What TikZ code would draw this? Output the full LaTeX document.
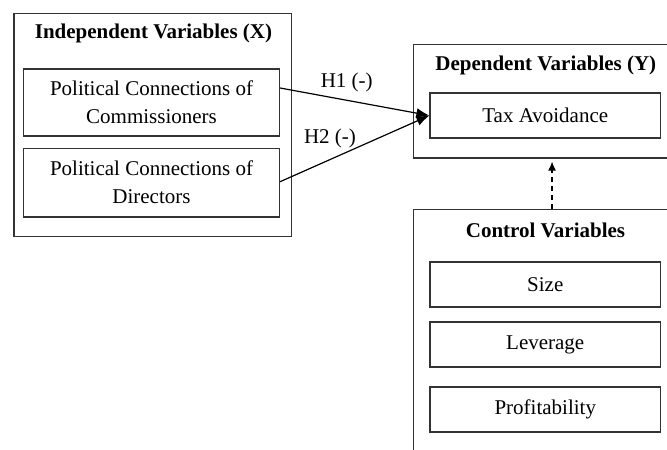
\documentclass[tikz,border=0pt]{standalone}
\usepackage{fontspec}
\setmainfont{Liberation Serif}
\usetikzlibrary{arrows.meta}
\begin{document}
\begin{tikzpicture}[x=1pt,y=-1pt,
  outerbox/.style={draw=black!80,line width=1.2pt,rectangle,inner sep=0pt},
  innerbox/.style={draw=black!80,line width=1.2pt,rectangle,inner sep=0pt,align=center,
    font=\fontsize{21}{28}\selectfont},
  titletext/.style={font=\fontsize{21}{24}\selectfont\bfseries,inner sep=0pt},
  lbl/.style={font=\fontsize{21}{24}\selectfont,inner sep=0pt},
  conn/.style={line width=1.2pt,-{Latex[length=13pt,width=10pt]}},
  dconn/.style={line width=1.2pt,dash pattern=on 5pt off 4pt,-{Latex[length=9pt,width=8pt]}}]
\useasboundingbox (0,0) rectangle (667,450);
\clip (0,0) rectangle (667,450);
% left group
\node[outerbox,minimum width=277.5pt,minimum height=223pt] (indep) at (152.75,125) {};
\node[titletext] (indeptitle) at (153.5,33) {Independent Variables (X)};
\node[innerbox,minimum width=256pt,minimum height=67pt] (pcc) at (151.5,102.5) {Political Connections of\\Commissioners};
\node[innerbox,minimum width=256pt,minimum height=68.5pt] (pcd) at (151.5,182.7) {Political Connections of\\Directors};
% dependent
\node[outerbox,minimum width=266.7pt,minimum height=113.5pt] (dep) at (546.65,101.25) {};
\node[titletext] (deptitle) at (545.8,65.5) {Dependent Variables (Y)};
\node[innerbox,minimum width=230.5pt,minimum height=45pt] (tax) at (545.25,115.5) {Tax Avoidance};
% control
\node[outerbox,minimum width=266.7pt,minimum height=261pt] (ctrl) at (546.65,339.8) {};
\node[titletext] (ctrltitle) at (545.5,230) {Control Variables};
\node[innerbox,minimum width=230.5pt,minimum height=45pt] (size) at (545.25,284.5) {Size};
\node[innerbox,minimum width=230.5pt,minimum height=45pt] (lev) at (545.25,344.5) {Leverage};
\node[innerbox,minimum width=230.5pt,minimum height=45pt] (prof) at (545.25,409.5) {Profitability};
% connectors
\draw[conn] ([yshift=14.5pt]pcc.east) -- (tax.west);
\draw[conn] ([yshift=1pt]pcd.east) -- (tax.west);
\node[lbl] (h1) at (346.7,82.5) {H1 (-)};
\node[lbl] (h2) at (330,138) {H2 (-)};
\draw[dconn,shorten >=3pt] ([xshift=5.4pt]ctrl.north) -- ([xshift=5.4pt]dep.south);
\end{tikzpicture}
\end{document}
